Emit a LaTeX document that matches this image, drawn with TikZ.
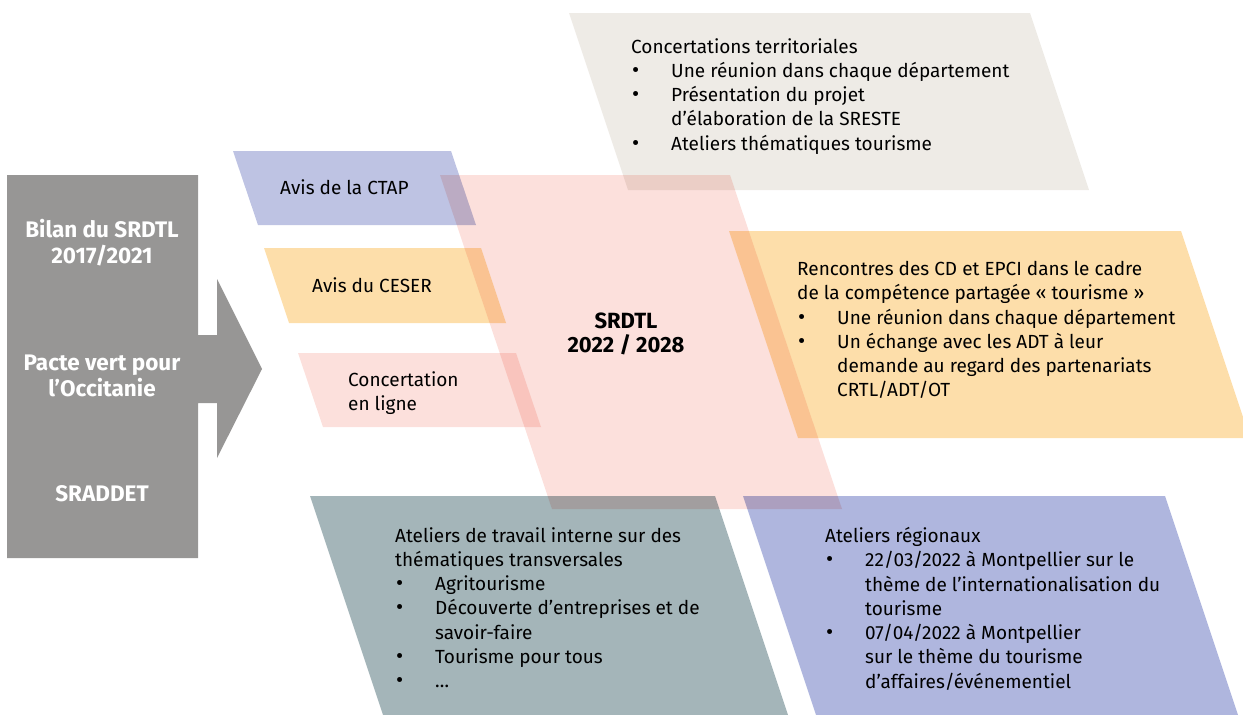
\documentclass[tikz,border=0pt]{standalone}
\usepackage{fontspec}
\setmainfont{Fira Sans}
\usepackage{xcolor}
\usepackage{tikz}
\usetikzlibrary{positioning}
\definecolor{arrowgrey}{RGB}{151, 150, 149}
\definecolor{sandgrey}{RGB}{238, 235, 230}
\definecolor{ctapblue}{RGB}{190, 195, 227}
\definecolor{atelierblue}{RGB}{175, 182, 222}
\definecolor{ceserorange}{RGB}{253, 222, 170}
\definecolor{salmonpink}{RGB}{252, 224, 220}
\definecolor{slateteal}{RGB}{164, 181, 185}
\newcommand{\bul}{\makebox[40pt][l]{\hspace{1pt}{\fontsize{22}{24.3}\selectfont\textbullet}}}
\newcommand{\ind}{\hspace*{40pt}}

\begin{document}
\begin{tikzpicture}[x=1pt, y=-1pt,
  txt/.style={font=\fontsize{19}{24.3}\selectfont, inner sep=0pt, align=left, anchor=north west},
  one/.style={font=\fontsize{19}{24.3}\selectfont, inner sep=0pt, anchor=base west},
  lefttag/.style={font=\fontsize{22.5}{26}\selectfont\bfseries, text=white, inner sep=0pt, align=center}]
  \useasboundingbox (0,0) rectangle (1243,715);
  \clip (0,0) rectangle (1243,715);

  % Input arrow
  \fill[arrowgrey] (7,175) -- (198,175) -- (198,335) -- (217,335) -- (217,279)
    -- (262,369) -- (217,458) -- (217,403) -- (198,403) -- (198,558) -- (7,558) -- cycle;

  % Slanted panels, overlaps multiplied
  \begin{scope}[blend group=multiply]
    \fill[sandgrey] (569,13) -- ++(461,0) -- ++(59,177) -- ++(-461,0) -- cycle;
    \fill[ctapblue] (233,151) -- ++(218,0) -- ++(25,74) -- ++(-218,0) -- cycle;
    \fill[ceserorange] (264,248) -- ++(217,0) -- ++(25,75) -- ++(-217,0) -- cycle;
    \fill[salmonpink] (298,353) -- ++(218,0) -- ++(25,74) -- ++(-218,0) -- cycle;
    \fill[ceserorange] (729,231) -- ++(452,0) -- ++(69,207) -- ++(-452,0) -- cycle;
    \fill[slateteal] (310,496) -- ++(405,0) -- ++(73,219) -- ++(-405,0) -- cycle;
    \fill[atelierblue] (743,496) -- ++(422,0) -- ++(73,219) -- ++(-422,0) -- cycle;
    \fill[salmonpink] (440,175) -- ++(290,0) -- ++(112,334) -- ++(-290,0) -- cycle;
  \end{scope}

  % Left labels
  \node[lefttag] (bilan) at (102,243) {Bilan du SRDTL\\2017/2021};
  \node[lefttag] (pacte) at (102,376) {Pacte vert pour\\l’Occitanie};
  \node[lefttag] (sraddet) at (102,494) {SRADDET};

  % Centre
  \node[lefttag, text=black, font=\fontsize{22}{24.5}\selectfont\bfseries] (srdtl) at (626,334) {SRDTL\\2022 / 2028};

  % Small panels
  \node[one] (ctap) at (280,194) {Avis de la CTAP};
  \node[one] (ceser) at (312,292) {Avis du CESER};
  \node[txt] (enligne) at (348,371) {Concertation\\en ligne};

  % Big panels
  \node[txt] (territ) at (631,38) {Concertations territoriales\\
    \bul Une réunion dans chaque département\\
    \bul Présentation du projet\\
    \ind d’élaboration de la SRESTE\\
    \bul Ateliers thématiques tourisme};
  \node[txt] (rencontres) at (797,261) {Rencontres des CD et EPCI dans le cadre\\
    de la compétence partagée « tourisme »\\
    \bul Une réunion dans chaque département\\
    \bul Un échange avec les ADT à leur\\
    \ind demande au regard des partenariats\\
    \ind CRTL/ADT/OT};
  \node[txt] (interne) at (395,527) {Ateliers de travail interne sur des\\
    thématiques transversales\\
    \bul Agritourisme\\
    \bul Découverte d’entreprises et de\\
    \ind savoir-faire\\
    \bul Tourisme pour tous\\
    \bul …};
  \node[txt] (regionaux) at (825,527) {Ateliers régionaux\\
    \bul 22/03/2022 à Montpellier sur le\\
    \ind thème de l’internationalisation du\\
    \ind tourisme\\
    \bul 07/04/2022 à Montpellier\\
    \ind sur le thème du tourisme\\
    \ind d’affaires/événementiel};
\end{tikzpicture}
\end{document}
